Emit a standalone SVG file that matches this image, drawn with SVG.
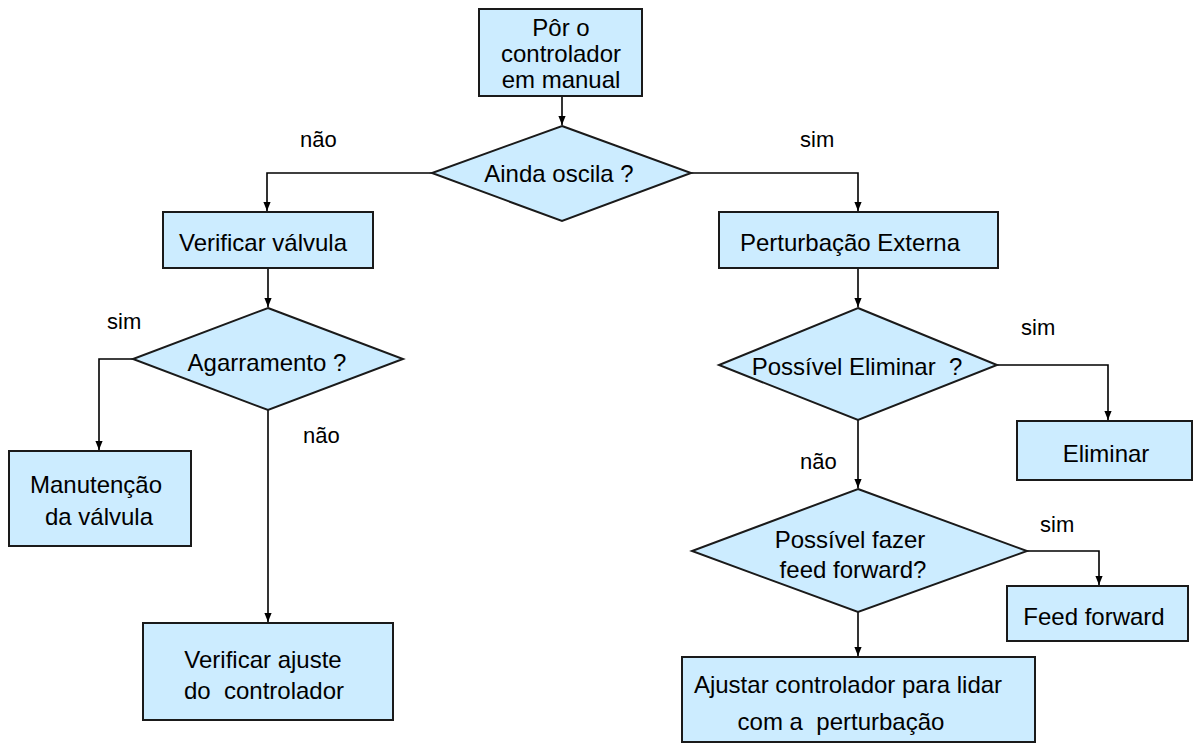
<svg xmlns="http://www.w3.org/2000/svg" width="1193" height="743" viewBox="0 0 1193 743">
<style>
.box{fill:#CCECFF;stroke:#1a1a1a;stroke-width:2}
.t{font-family:"Liberation Sans",Arial,sans-serif;font-size:24px;fill:#000;text-anchor:middle}
.l{font-family:"Liberation Sans",Arial,sans-serif;font-size:22px;fill:#000}
.c{fill:none;stroke:#000;stroke-width:1.6}
</style>
<defs>
<marker id="ah" viewBox="0 0 10 10" refX="10" refY="5" markerWidth="9" markerHeight="9" markerUnits="userSpaceOnUse" orient="auto">
<path d="M0,1 L10,5 L0,9 z" fill="#000"/>
</marker>
</defs>
<rect width="1193" height="743" fill="#fff"/>
<g id="connectors">
<path class="c" d="M562,96 V125" marker-end="url(#ah)"/>
<path class="c" d="M432,173 H267 V211" marker-end="url(#ah)"/>
<path class="c" d="M691,173 H858 V211" marker-end="url(#ah)"/>
<path class="c" d="M268,268 V307" marker-end="url(#ah)"/>
<path class="c" d="M133,359 H99 V450" marker-end="url(#ah)"/>
<path class="c" d="M268,410 V622" marker-end="url(#ah)"/>
<path class="c" d="M858,268 V307" marker-end="url(#ah)"/>
<path class="c" d="M997,365 H1108 V420" marker-end="url(#ah)"/>
<path class="c" d="M858,420 V488" marker-end="url(#ah)"/>
<path class="c" d="M1027,551 H1099 V585" marker-end="url(#ah)"/>
<path class="c" d="M858,612 V656" marker-end="url(#ah)"/>
</g>
<g id="labels">
<text class="l" x="300" y="147">não</text>
<text class="l" x="800" y="147">sim</text>
<text class="l" x="107" y="329">sim</text>
<text class="l" x="303" y="443">não</text>
<text class="l" x="1021" y="335">sim</text>
<text class="l" x="800" y="469">não</text>
<text class="l" x="1040" y="532">sim</text>
</g>
<g id="n1">
<rect class="box" x="479" y="9" width="163" height="87"/>
<text class="t" x="561" y="36">Pôr o</text>
<text class="t" x="561" y="62">controlador</text>
<text class="t" x="561" y="88">em manual</text>
</g>
<g id="d1">
<polygon class="box" points="562,126 691,173 562,221 432,173"/>
<text class="t" x="559" y="182" xml:space="preserve">Ainda oscila ?</text>
</g>
<g id="n2">
<rect class="box" x="163" y="212" width="210" height="56"/>
<text class="t" x="263" y="251">Verificar válvula</text>
</g>
<g id="n3">
<rect class="box" x="719" y="212" width="279" height="56"/>
<text class="t" x="850" y="251">Perturbação Externa</text>
</g>
<g id="d2">
<polygon class="box" points="268,308 403,359 268,410 133,359"/>
<text class="t" x="267" y="371">Agarramento ?</text>
</g>
<g id="n4">
<rect class="box" x="9" y="451" width="182" height="95"/>
<text class="t" x="96" y="493">Manutenção</text>
<text class="t" x="99" y="525">da válvula</text>
</g>
<g id="n5">
<rect class="box" x="143" y="623" width="250" height="97"/>
<text class="t" x="263" y="668">Verificar ajuste</text>
<text class="t" x="264" y="699" xml:space="preserve">do  controlador</text>
</g>
<g id="d3">
<polygon class="box" points="858,308 997,365 858,420 719,365"/>
<text class="t" x="857" y="375" xml:space="preserve">Possível Eliminar  ?</text>
</g>
<g id="n6">
<rect class="box" x="1017" y="421" width="175" height="59"/>
<text class="t" x="1106" y="462">Eliminar</text>
</g>
<g id="d4">
<polygon class="box" points="858,489 1027,551 858,612 692,551"/>
<text class="t" x="850" y="548">Possível fazer</text>
<text class="t" x="853" y="578">feed forward?</text>
</g>
<g id="n7">
<rect class="box" x="1007" y="586" width="181" height="55"/>
<text class="t" x="1094" y="625">Feed forward</text>
</g>
<g id="n8">
<rect class="box" x="682" y="657" width="353" height="85"/>
<text class="t" x="848" y="693">Ajustar controlador para lidar</text>
<text class="t" x="841" y="730" xml:space="preserve">com a  perturbação</text>
</g>
</svg>
